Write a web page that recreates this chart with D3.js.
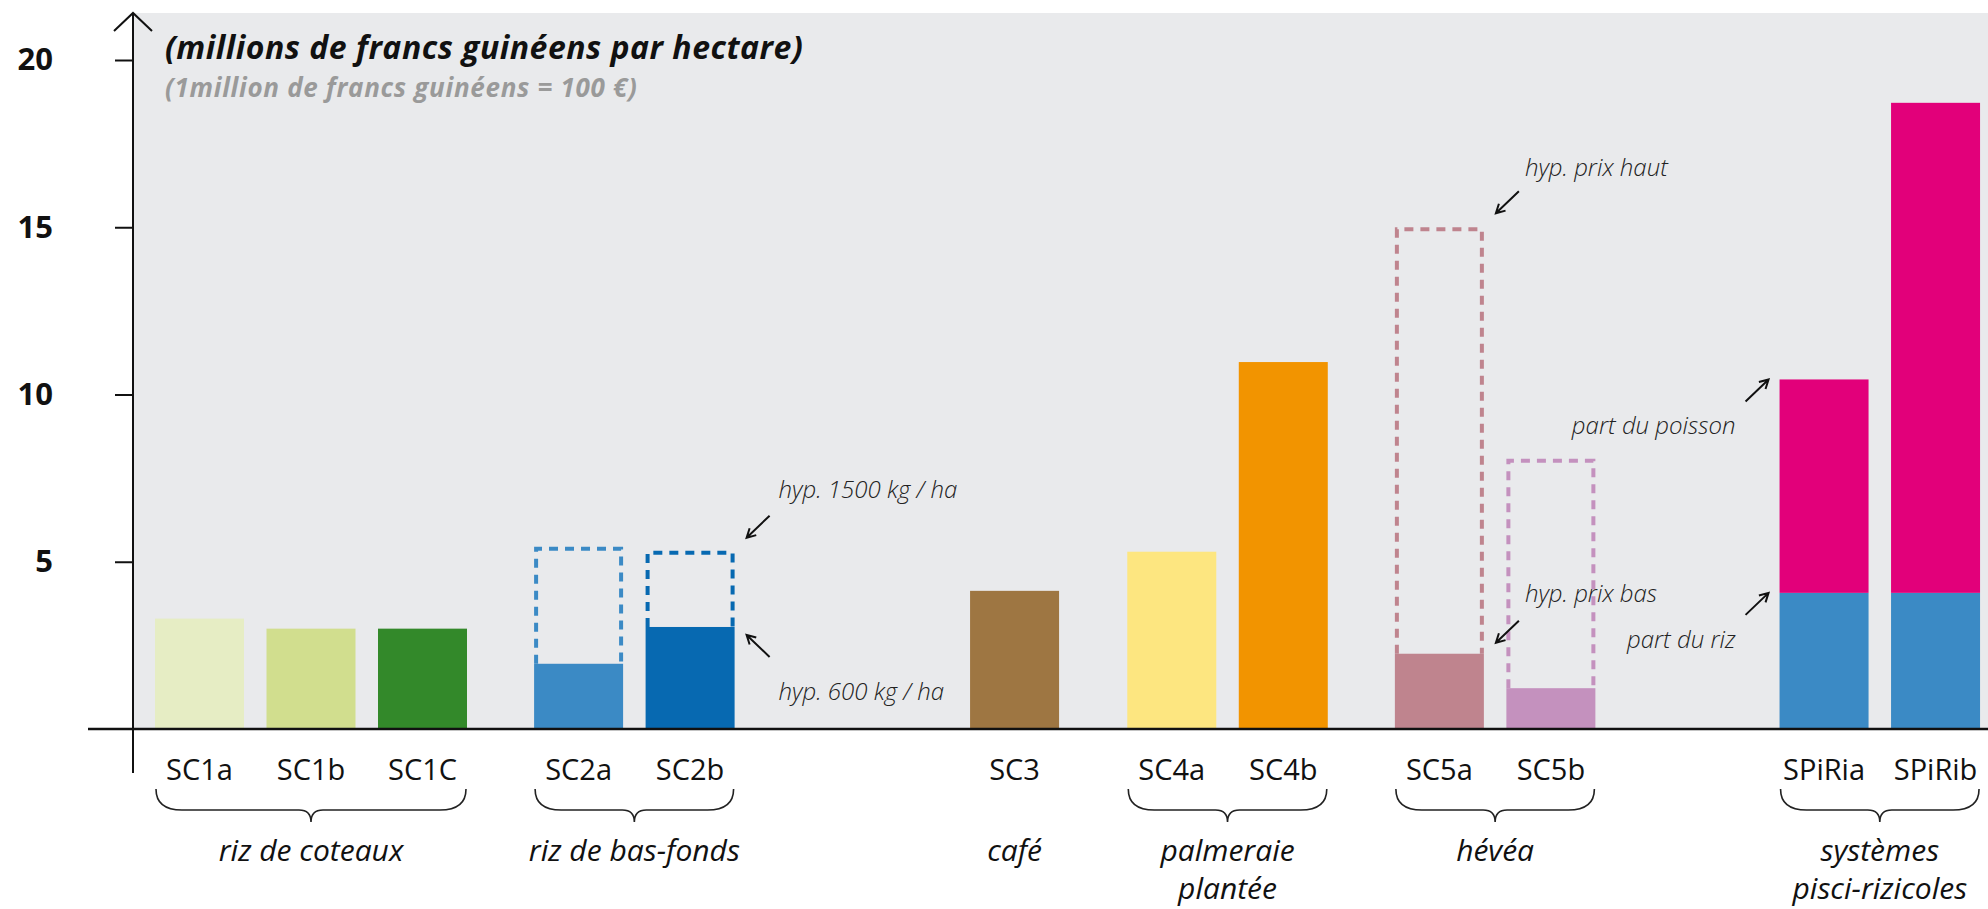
<!DOCTYPE html>
<html>
<head>
<meta charset="utf-8">
<script src="https://cdn.jsdelivr.net/npm/d3@7"></script>
<style>
  body { margin: 0; background: #fff; }
  svg { display: block; font-family: 'Open Sans', 'Noto Sans', sans-serif; }
</style>
</head>
<body>
<svg id="chart" width="1988" height="909"></svg>
<script>
// cropping systems, grouped
var categories = ['SC1a', 'SC1b', 'SC1C', 'SC2a', 'SC2b', 'SC3', 'SC4a', 'SC4b', 'SC5a', 'SC5b', 'SPiRia', 'SPiRib'];
var groupOf = [0, 0, 0, 1, 1, 2, 3, 3, 4, 4, 5, 5];
var groupNames = [['riz de coteaux'], ['riz de bas-fonds'], ['café'], ['palmeraie', 'plantée'], ['hévéa'], ['systèmes', 'pisci-rizicoles']];

// value added, millions GNF / ha (600 kg/ha, prix bas, part du riz)
var baseValues = [3.3, 3.0, 3.0, 1.95, 3.05, 4.13, 5.3, 10.97, 2.25, 1.22, 4.07, 4.07];
// alternative hypothesis (1500 kg/ha, prix haut), dashed outline
var highValues = [null, null, null, 5.45, 5.33, null, null, null, 15.0, 8.08, null, null];
// part du poisson, stacked above the rice
var fishValues = [0, 0, 0, 0, 0, 0, 0, 0, 0, 0, 6.38, 14.65];

var yTicks = [5, 10, 15, 20];

var barColors = ['#e6edc4', '#d1de8e', '#33892a', '#3b8ac5', '#0769b1', '#9e7642', '#fde680', '#f29400', '#bf848e', '#c491be', '#3b8ac5', '#3b8ac5'];
var fishColor = '#e2007a';

// annotations: anchor bar, which level, arrow direction, text offset from arrow tip
var notes = [
  { text: 'hyp. 1500 kg / ha', bar: 4, level: 'high', dir: 'downleft', dy: -13, tx: 32, ty: -40 },
  { text: 'hyp. 600 kg / ha', bar: 4, level: 'base', dir: 'upleft', dy: 8, tx: 32, ty: 65 },
  { text: 'hyp. prix haut', bar: 8, level: 'high', dir: 'downleft', dy: -14, tx: 29, ty: -37 },
  { text: 'hyp. prix bas', bar: 8, level: 'base', dir: 'downleft', dy: -11, tx: 29, ty: -41 },
  { text: 'part du poisson', bar: 10, level: 'total', dir: 'upright', dy: 0, tx: -33, ty: 55 },
  { text: 'part du riz', bar: 10, level: 'base', dir: 'upright', dy: 0, tx: -33, ty: 55 }
];

// layout: extra space (in bar steps) before each group
var groupGaps = [0, 1.40, 2.91, 1.41, 1.40, 2.45];

var svg = d3.select('#chart');

var plotLeft = 133, plotTop = 13, plotRight = 1988;
var barWidth = 89;

var slots = [];
categories.forEach(function(c, i) {
  var g = groupOf[i];
  var newGroup = i > 0 && groupOf[i - 1] !== g;
  slots.push(i === 0 ? 0 : slots[i - 1] + (newGroup ? groupGaps[g] : 1));
});

var x = d3.scaleLinear().domain([0, 1]).range([155, 266.5]);
var y = d3.scaleLinear().domain([0, 20]).range([729, 60]);

function left(i) { return x(slots[i]); }
function right(i) { return x(slots[i]) + barWidth; }

// plot background
svg.append('rect')
  .attr('x', plotLeft)
  .attr('y', plotTop)
  .attr('width', plotRight - plotLeft)
  .attr('height', y(0) - plotTop)
  .attr('fill', '#e9eaec');

// bars
svg.selectAll('rect.bar')
  .data(categories)
  .enter()
  .append('rect')
  .attr('class', 'bar')
  .attr('x', function(d, i) { return left(i); })
  .attr('y', function(d, i) { return y(baseValues[i]); })
  .attr('width', barWidth)
  .attr('height', function(d, i) { return y(0) - y(baseValues[i]); })
  .attr('fill', function(d, i) { return barColors[i]; });

svg.selectAll('rect.fish')
  .data(categories.filter(function(d, i) { return fishValues[i] > 0; }))
  .enter()
  .append('rect')
  .attr('class', 'fish')
  .attr('x', function(d) { return left(categories.indexOf(d)); })
  .attr('y', function(d) { var i = categories.indexOf(d); return y(baseValues[i] + fishValues[i]); })
  .attr('width', barWidth)
  .attr('height', function(d) { var i = categories.indexOf(d); return y(baseValues[i]) - y(baseValues[i] + fishValues[i]); })
  .attr('fill', fishColor);

// dashed outline for the high hypothesis
svg.selectAll('path.hyp')
  .data(categories.filter(function(d, i) { return highValues[i] !== null; }))
  .enter()
  .append('path')
  .attr('class', 'hyp')
  .attr('d', function(d) {
    var i = categories.indexOf(d);
    var x0 = left(i) + 2, x1 = right(i) - 2;
    return 'M' + x0 + ',' + y(baseValues[i]) + 'V' + (y(highValues[i]) + 2) + 'H' + x1 + 'V' + y(baseValues[i]);
  })
  .attr('fill', 'none')
  .attr('stroke', function(d) { return barColors[categories.indexOf(d)]; })
  .attr('stroke-width', 4)
  .attr('stroke-dasharray', '9,7');

// y axis
var yAxis = d3.axisLeft(y).tickValues(yTicks).tickSize(18).tickPadding(62);
var axisG = svg.append('g')
  .attr('transform', 'translate(' + plotLeft + ',0)')
  .call(yAxis)
  .attr('font-family', null);
axisG.select('.domain').remove();
axisG.selectAll('.tick line').attr('stroke', '#111').attr('stroke-width', 2);
axisG.selectAll('.tick text')
  .attr('fill', '#111')
  .style('font-family', "'Open Sans', 'Noto Sans', sans-serif")
  .style('font-size', '31px')
  .style('font-weight', 700);

svg.append('path')
  .attr('d', 'M' + plotLeft + ',773V13M114,31L' + plotLeft + ',13L152,31')
  .attr('fill', 'none')
  .attr('stroke', '#111')
  .attr('stroke-width', 2);

// baseline
svg.append('line')
  .attr('x1', 88).attr('x2', plotRight)
  .attr('y1', y(0)).attr('y2', y(0))
  .attr('stroke', '#111')
  .attr('stroke-width', 2.5);

// titles
svg.append('text')
  .attr('x', 165).attr('y', 59)
  .style('font-size', '32px')
  .style('font-weight', 700)
  .style('font-style', 'italic')
  .style('letter-spacing', '0.5px')
  .attr('fill', '#111')
  .text('(millions de francs guinéens par hectare)');

svg.append('text')
  .attr('x', 165).attr('y', 97)
  .style('font-size', '26px')
  .style('font-weight', 700)
  .style('font-style', 'italic')
  .style('letter-spacing', '0.7px')
  .attr('fill', '#9a9a9a')
  .text('(1million de francs guinéens = 100 €)');

// category labels
svg.selectAll('text.cat')
  .data(categories)
  .enter()
  .append('text')
  .attr('class', 'cat')
  .attr('x', function(d, i) { return left(i) + barWidth / 2; })
  .attr('y', 780)
  .attr('text-anchor', 'middle')
  .style('font-size', '29px')
  .attr('fill', '#111')
  .text(function(d) { return d; });

// group braces and names
var groups = groupNames.map(function(name, g) {
  var members = d3.range(categories.length).filter(function(i) { return groupOf[i] === g; });
  return { name: name, first: members[0], last: members[members.length - 1], size: members.length };
});

svg.selectAll('path.brace')
  .data(groups.filter(function(g) { return g.size > 1; }))
  .enter()
  .append('path')
  .attr('class', 'brace')
  .attr('d', function(g) {
    var x0 = left(g.first) + 1, x1 = right(g.last) - 1, cx = (x0 + x1) / 2;
    var top = 789, mid = 810, tip = 822;
    return 'M' + x0 + ',' + top + 'Q' + x0 + ',' + mid + ' ' + (x0 + 26) + ',' + mid +
      'L' + (cx - 12) + ',' + mid + 'Q' + cx + ',' + mid + ' ' + cx + ',' + tip +
      'Q' + cx + ',' + mid + ' ' + (cx + 12) + ',' + mid +
      'L' + (x1 - 26) + ',' + mid + 'Q' + x1 + ',' + mid + ' ' + x1 + ',' + top;
  })
  .attr('fill', 'none')
  .attr('stroke', '#222')
  .attr('stroke-width', 1.6);

var groupLabels = svg.selectAll('text.group')
  .data(groups)
  .enter()
  .append('text')
  .attr('class', 'group')
  .attr('y', 861)
  .attr('text-anchor', 'middle')
  .style('font-size', '30px')
  .style('font-style', 'italic')
  .attr('fill', '#111');

groupLabels.selectAll('tspan')
  .data(function(g) { return g.name.map(function(line) { return { line: line, x: (left(g.first) + right(g.last)) / 2 }; }); })
  .enter()
  .append('tspan')
  .attr('x', function(d) { return d.x; })
  .attr('dy', function(d, i) { return i === 0 ? 0 : 38; })
  .text(function(d) { return d.line; });

// annotations with arrows
function noteValue(n) {
  if (n.level === 'high') return highValues[n.bar];
  if (n.level === 'total') return baseValues[n.bar] + fishValues[n.bar];
  return baseValues[n.bar];
}

var arrowVec = {
  downleft: [23, -22],
  upleft: [23, 22],
  upright: [-23, 22]
};

notes.forEach(function(n) {
  var isLeft = n.dir === 'upright';
  var tipX = isLeft ? left(n.bar) - 11 : right(n.bar) + 12;
  var tipY = y(noteValue(n)) + n.dy;
  var v = arrowVec[n.dir];
  var tailX = tipX + v[0], tailY = tipY + v[1];
  var ang = Math.atan2(tipY - tailY, tipX - tailX);
  var w = 10, spread = 0.5;
  var w1 = [tipX - w * Math.cos(ang - spread), tipY - w * Math.sin(ang - spread)];
  var w2 = [tipX - w * Math.cos(ang + spread), tipY - w * Math.sin(ang + spread)];

  svg.append('path')
    .attr('d', 'M' + tailX + ',' + tailY + 'L' + tipX + ',' + tipY +
      'M' + w1[0] + ',' + w1[1] + 'L' + tipX + ',' + tipY + 'L' + w2[0] + ',' + w2[1])
    .attr('fill', 'none')
    .attr('stroke', '#111')
    .attr('stroke-width', 2);

  svg.append('text')
    .attr('x', tipX + n.tx)
    .attr('y', tipY + n.ty)
    .attr('text-anchor', isLeft ? 'end' : 'start')
    .style('font-size', '24px')
    .style('font-style', 'italic')
    .style('font-weight', 300)
    .attr('fill', '#222')
    .text(n.text);
});
</script>
</body>
</html>
